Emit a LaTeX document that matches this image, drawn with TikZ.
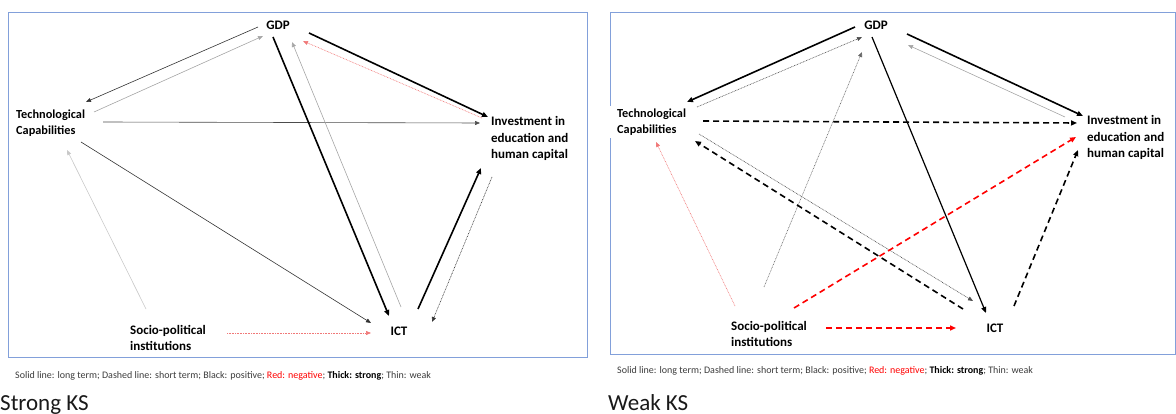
\documentclass[tikz,border=0pt]{standalone}
\usepackage{fontspec}
\setmainfont{Carlito}
\usetikzlibrary{arrows.meta,calc}
\definecolor{boxblue}{RGB}{130,160,218}
\definecolor{lgray}{RGB}{165,165,165}
\definecolor{vlgray}{RGB}{200,200,200}
\definecolor{pinkred}{RGB}{240,120,120}
\definecolor{legtext}{RGB}{60,60,60}
\begin{document}
\begin{tikzpicture}[x=1pt,y=-1pt,
  lbl/.style={font=\bfseries\fontsize{13}{16.5}\selectfont, inner sep=0pt, align=left, text=black},
  techlbl/.style={lbl, font=\bfseries\fontsize{12.3}{16}\selectfont},
  panel/.style={draw=boxblue, line width=0.9pt},
  tipthin/.style={-{Triangle[length=5pt,width=4pt]}},
  tipthick/.style={-{Triangle[length=6pt,width=5pt]}},
  strongsolid/.style={tipthick, line width=1.6pt, black},
  medsolid/.style={tipthick, line width=1.2pt, black},
  thinsolid/.style={tipthin, line width=0.6pt, black!80},
  thingray/.style={tipthin, line width=0.6pt, lgray},
  thinvlgray/.style={tipthin, line width=0.6pt, vlgray},
  thindot/.style={tipthin, line width=0.6pt, dash pattern=on 0.8pt off 0.8pt},
  strongdash/.style={tipthick, line width=1.6pt, dash pattern=on 6pt off 4pt},
  legend/.style={font=\fontsize{10}{12}\selectfont, text=legtext, inner sep=0pt, anchor=west},
  caption/.style={font=\fontsize{23}{26}\selectfont, text=black!90, inner sep=0pt, anchor=base west}
]
\useasboundingbox (0,0) rectangle (1176,414);

% ---------------- Left panel: Strong KS ----------------
\draw[panel] (8,12) rectangle (587,357);
\node[lbl, anchor=center] (gdpA) at (278,25) {GDP};
\node[techlbl, anchor=west] (techA) at (16,123) {Technological\\Capabilities};
\node[lbl, anchor=west] (invA) at (491,138.5) {Investment in\\education and\\human capital};
\node[lbl, anchor=center] (ictA) at (399,331) {ICT};
\node[lbl, anchor=west] (socA) at (130,338) {Socio-political\\institutions};

\draw[thinsolid] ($(gdpA)+(-20,2)$) -- ($(techA.west)+(70,-21)$);
\draw[thingray] ($(techA.west)+(78,-11)$) -- ($(gdpA)+(-15,11)$);
\draw[thinsolid, black!70] ($(techA.west)+(87,-1)$) -- ($(invA.west)+(-11,-15.5)$);
\draw[strongsolid] ($(gdpA)+(-5,12)$) -- ($(ictA)+(-10,-15)$);
\draw[thingray] ($(ictA)+(2,-24)$) -- ($(gdpA)+(14,17)$);
\draw[thindot, pinkred] ($(invA.west)+(-9,-20.5)$) -- ($(gdpA)+(25,16)$);
\draw[strongsolid] ($(gdpA)+(31,8)$) -- ($(invA.west)+(-3,-21.5)$);
\draw[strongsolid] ($(ictA)+(19,-22)$) -- ($(invA.west)+(-10,29.5)$);
\draw[thindot, black!80] ($(invA.west)+(1,38.5)$) -- ($(ictA)+(33,-9)$);
\draw[thinsolid] ($(techA.west)+(65,19)$) -- ($(ictA)+(-28,-8)$);
\draw[thinvlgray] ($(socA.west)+(16,-29)$) -- ($(techA.west)+(51,27)$);
\draw[thindot, pinkred] ($(socA.west)+(97,-5)$) -- ($(ictA)+(-28,2)$);

\node[legend] (legA) at (15,376) {Solid line: long term; Dashed line: short term; Black: positive; \textcolor{red}{Red: negative}; \textbf{\textcolor{black}{Thick: strong}}; Thin: weak};
\node[caption] (capA) at (0,410) {Strong KS};

% ---------------- Right panel: Weak KS ----------------
\draw[panel] (610,12) rectangle (1175.5,354);
\node[lbl, anchor=center] (gdpB) at (876,25) {GDP};
\node[techlbl, anchor=west, fill=white, inner xsep=7pt, inner ysep=3pt] (techB) at (610,122) {Technological\\Capabilities};
\node[lbl, anchor=west] (invB) at (1087,137.5) {Investment in\\education and\\human capital};
\node[lbl, anchor=center] (ictB) at (995,328) {ICT};
\node[lbl, anchor=west] (socB) at (731,334) {Socio-political\\institutions};

\draw[strongsolid] ($(gdpB)+(-21,2)$) -- ($(techB.west)+(77,-20)$);
\draw[thindot, black!70] ($(techB.west)+(87,-15)$) -- ($(gdpB)+(-14,12)$);
\draw[strongsolid] ($(gdpB)+(31,9)$) -- ($(invB.west)+(-4,-21.5)$);
\draw[thingray] ($(invB.west)+(-22,-20.5)$) -- ($(gdpB)+(32,20)$);
\draw[strongdash] ($(techB.west)+(93,-1)$) -- ($(invB.west)+(-10,-14.5)$);
\draw[medsolid] ($(gdpB)+(-4,12)$) -- ($(ictB)+(-9,-15)$);
\draw[thindot, black!60] ($(socB.west)+(33,-47)$) -- ($(gdpB)+(-14,27)$);
\draw[thindot, black!70] ($(techB.west)+(89,12)$) -- ($(ictB)+(-22,-27)$);
\draw[strongdash] ($(ictB)+(-32,-19)$) -- ($(techB.west)+(85,19)$);
\draw[strongdash, red] ($(socB.west)+(63,-26)$) -- ($(invB.west)+(-11,-0.5)$);
\draw[strongdash] ($(ictB)+(19,-22)$) -- ($(invB.west)+(-9,12.5)$);
\draw[thindot, pinkred] ($(socB.west)+(4,-28)$) -- ($(techB.west)+(46,20)$);
\draw[strongdash, red] ($(socB.west)+(95,-6)$) -- ($(ictB)+(-39,0)$);

\node[legend] (legB) at (617,371) {Solid line: long term; Dashed line: short term; Black: positive; \textcolor{red}{Red: negative}; \textbf{\textcolor{black}{Thick: strong}}; Thin: weak};
\node[caption] (capB) at (608,410) {Weak KS};
\end{tikzpicture}
\end{document}
